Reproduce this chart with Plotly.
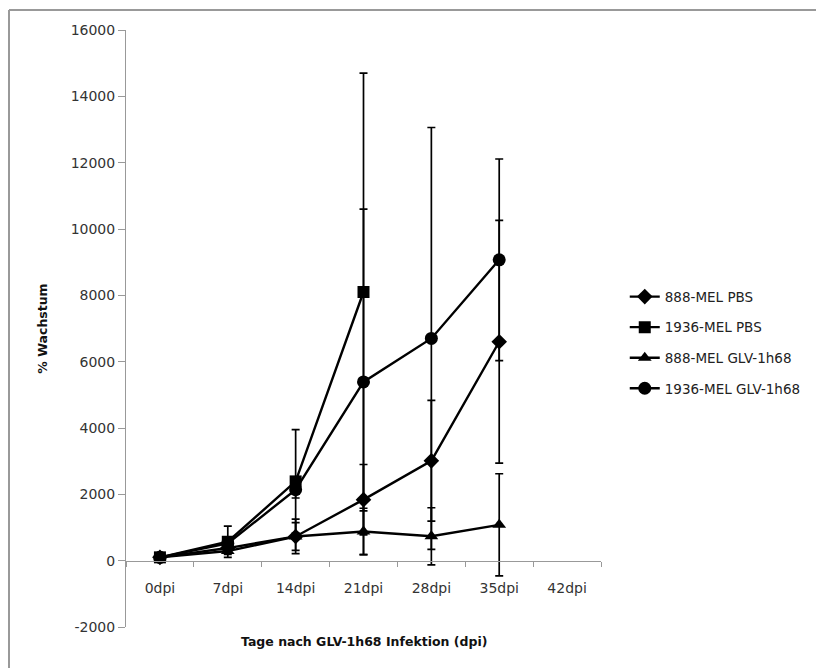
import plotly.graph_objects as go

categories = ["0dpi", "7dpi", "14dpi", "21dpi", "28dpi", "35dpi", "42dpi"]

mel888_pbs = [100, 380, 730, 1840, 3010, 6600, None]
mel888_pbs_err = [0, 150, 520, 1060, 1820, 3660, 0]

mel1936_pbs = [100, 570, 2390, 8100, None, None, None]
mel1936_pbs_err = [0, 470, 1560, 6600, 0, 0, 0]

mel888_glv = [100, 290, 730, 880, 735, 1080, None]
mel888_glv_err = [0, 100, 420, 700, 860, 1540, 0]

mel1936_glv = [100, 520, 2140, 5390, 6700, 9070, None]
mel1936_glv_err = [0, 150, 250, 5210, 6360, 3040, 0]

y_tickvals = [-2000, 0, 2000, 4000, 6000, 8000, 10000, 12000, 14000, 16000]
y_ticktext = ["-2000", "0", "2000", "4000", "6000", "8000", "10000", "12000", "14000", "16000"]

series = [
    ("888-MEL PBS", mel888_pbs, mel888_pbs_err, "diamond", 12),
    ("1936-MEL PBS", mel1936_pbs, mel1936_pbs_err, "square", 12),
    ("888-MEL GLV-1h68", mel888_glv, mel888_glv_err, "triangle-up", 12),
    ("1936-MEL GLV-1h68", mel1936_glv, mel1936_glv_err, "circle", 13),
]

font_family = "'DejaVu Sans', sans-serif"

W, H = 816, 668
L, R, T, B = 126, 215, 30, 41
PW, PH = W - L - R, H - T - B


def px(xf):
    return (xf - L) / PW


def py(yf):
    return (H - B - yf) / PH


fig = go.Figure()
for i, (name, vals, errs, sym, size) in enumerate(series):
    fig.add_trace(go.Scatter(
        x=categories, y=vals, name=name, mode="lines+markers",
        legendgroup=f"g{i}",
        line=dict(color="black", width=2.4),
        marker=dict(symbol=sym, size=size, color="black"),
        error_y=dict(type="data", array=errs, visible=True, color="black",
                     thickness=1.7, width=4),
        connectgaps=False,
    ))

ymin, ymax = -2000, 16000
zero_pos = (0 - ymin) / (ymax - ymin)

fig.update_layout(
    width=W, height=H,
    margin=dict(l=L, r=R, t=T, b=B, autoexpand=False),
    paper_bgcolor="white", plot_bgcolor="white",
    font=dict(family=font_family, size=14, color="#333"),
    showlegend=True,
    legend=dict(x=1.05, y=0.476, xanchor="left", yanchor="middle",
                traceorder="grouped", tracegroupgap=10,
                font=dict(size=13.5, color="#222"), itemwidth=30),
    xaxis=dict(
        type="category", categoryorder="array", categoryarray=categories,
        range=[-0.5, 6.5], anchor="free", position=zero_pos,
        showline=True, linecolor="#999", linewidth=1,
        ticks="outside", ticklen=5, tickcolor="#999", tickson="boundaries",
        ticklabelstandoff=15, showgrid=False, zeroline=False,
        tickfont=dict(size=14, color="#333"),
    ),
    yaxis=dict(
        range=[ymin, ymax], tickvals=y_tickvals, ticktext=y_ticktext,
        showline=True, linecolor="#999", linewidth=1,
        ticks="outside", ticklen=7, tickcolor="#999",
        showgrid=False, zeroline=False,
        tickfont=dict(size=14, color="#333"),
        title=dict(text="<b>% Wachstum</b>", font=dict(size=12.5, color="#111"), standoff=20),
    ),
    annotations=[dict(
        text="<b>Tage nach GLV-1h68 Infektion (dpi)</b>",
        xref="paper", yref="paper", x=0.5, y=py(641),
        xanchor="center", yanchor="middle", showarrow=False,
        font=dict(size=12.5, color="#111"),
    )],
    shapes=[
        dict(type="line", xref="paper", yref="paper",
             x0=px(9), x1=px(W), y0=py(10), y1=py(10),
             line=dict(color="#999", width=2)),
        dict(type="line", xref="paper", yref="paper",
             x0=px(9), x1=px(9), y0=py(10), y1=py(H),
             line=dict(color="#999", width=2)),
    ],
)

fig.write_html(
    "out.html",
    config={"displayModeBar": False},
    post_script="document.body.style.margin='0px';document.documentElement.style.overflow='hidden';",
)
